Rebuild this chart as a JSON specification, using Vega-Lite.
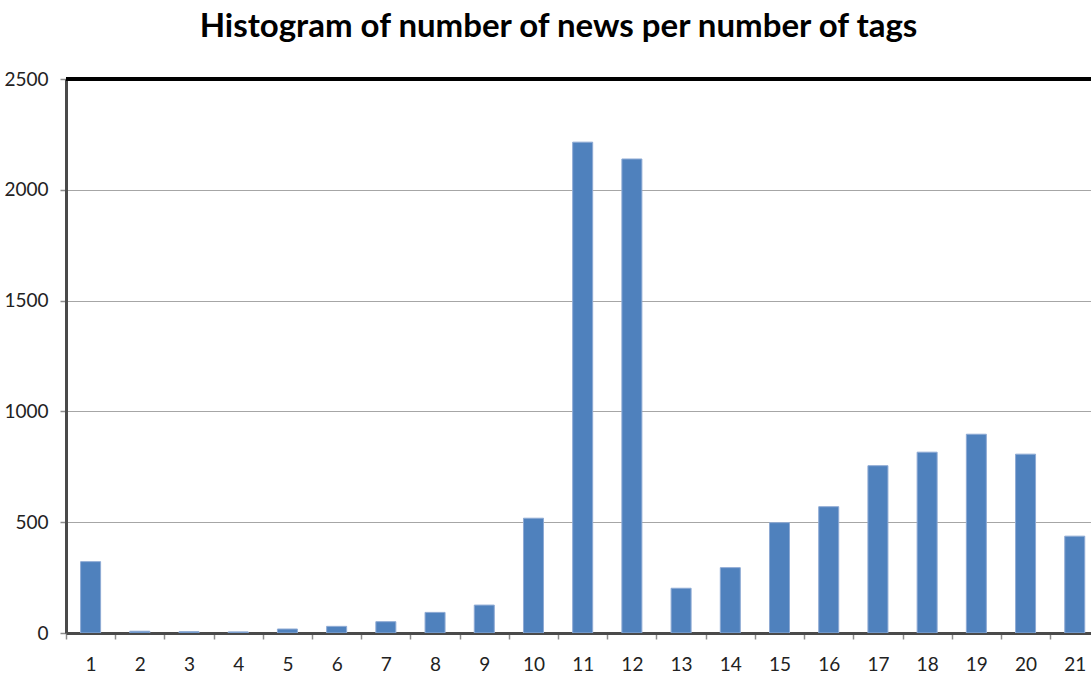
{
  "$schema": "https://vega.github.io/schema/vega-lite/v6.json",
  "autosize": {"type": "none"},
  "width": 1025,
  "height": 554,
  "padding": {"left": 66, "top": 79, "right": 0, "bottom": 42},
  "background": "white",
  "title": {
    "text": "Histogram of number of news per number of tags",
    "font": "Lato",
    "fontSize": 33,
    "fontWeight": "bold",
    "color": "#000000",
    "anchor": "middle",
    "dx": -20,
    "offset": 26
  },
  "config": {
    "view": {"stroke": null},
    "axis": {
      "labelFont": "Lato",
      "labelFontSize": 19,
      "labelColor": "#222222",
      "tickColor": "#8c8c8c",
      "tickWidth": 1.5,
      "tickSize": 6,
      "domainColor": "#4a4a4a",
      "domainWidth": 3,
      "title": null
    }
  },
  "data": {
    "values": [
      {"tags": 1, "news": 322},
      {"tags": 2, "news": 8},
      {"tags": 3, "news": 6},
      {"tags": 4, "news": 5},
      {"tags": 5, "news": 18},
      {"tags": 6, "news": 30},
      {"tags": 7, "news": 51},
      {"tags": 8, "news": 93},
      {"tags": 9, "news": 126},
      {"tags": 10, "news": 518},
      {"tags": 11, "news": 2215},
      {"tags": 12, "news": 2139},
      {"tags": 13, "news": 202},
      {"tags": 14, "news": 295},
      {"tags": 15, "news": 498},
      {"tags": 16, "news": 570},
      {"tags": 17, "news": 755},
      {"tags": 18, "news": 816},
      {"tags": 19, "news": 897},
      {"tags": 20, "news": 807},
      {"tags": 21, "news": 437}
    ]
  },
  "layer": [
    {
      "mark": {
        "type": "bar",
        "orient": "vertical",
        "size": 20,
        "color": "#4f81bd",
        "stroke": "#8eaad4",
        "strokeWidth": 1,
        "clip": true
      },
      "encoding": {
        "x": {
          "field": "tags",
          "type": "quantitative",
          "scale": {"domain": [0.5, 21.33], "nice": false, "zero": false, "padding": 0},
          "axis": {
            "values": [1, 2, 3, 4, 5, 6, 7, 8, 9, 10, 11, 12, 13, 14, 15, 16, 17, 18, 19, 20, 21],
            "format": "d",
            "grid": false,
            "tickOffset": -24.6,
            "labelOffset": 24.6,
            "labelPadding": 16
          }
        },
        "y": {
          "field": "news",
          "type": "quantitative",
          "scale": {"domain": [0, 2500], "nice": false, "padding": 0},
          "axis": {
            "values": [0, 500, 1000, 1500, 2000, 2500],
            "format": "d",
            "grid": true,
            "gridColor": "#a6a6a6",
            "gridWidth": 1.2,
            "labelPadding": 12
          }
        }
      }
    },
    {
      "mark": {"type": "rule", "color": "#000000", "strokeWidth": 3},
      "encoding": {"y": {"datum": 2500}}
    }
  ]
}
